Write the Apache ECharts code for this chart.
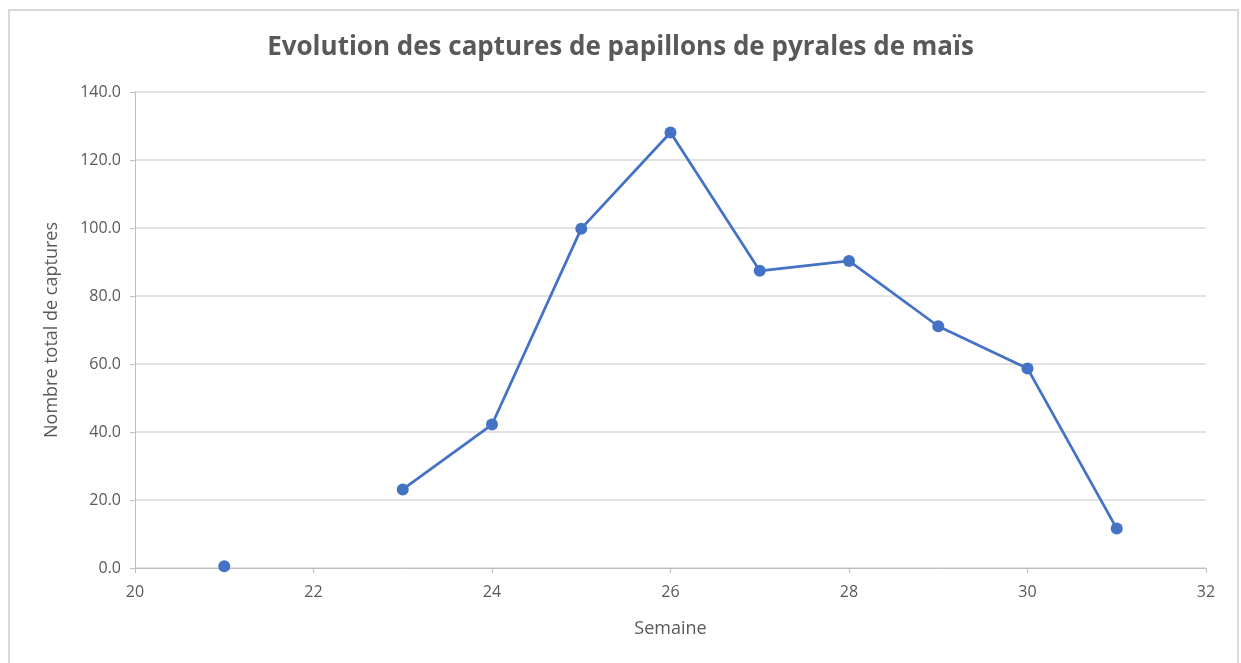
<!DOCTYPE html>
<html>
<head>
<meta charset="utf-8">
<script src="https://cdn.jsdelivr.net/npm/echarts@6/dist/echarts.min.js"></script>
<style>
html,body{margin:0;padding:0;background:#fff;}
#chart{width:1241px;height:663px;}
</style>
</head>
<body>
<div id="chart"></div>
<script>
const weeks = [21, 22, 23, 24, 25, 26, 27, 28, 29, 30, 31];
const captures = [0.5, null, 23.1, 42.2, 99.8, 128.1, 87.4, 90.3, 71.1, 58.7, 11.6];
const titleText = 'Evolution des captures de papillons de pyrales de maïs';
const xName = 'Semaine';
const yName = 'Nombre total de captures';

const seriesData = weeks.map((w, i) => [w, captures[i] === null ? '-' : captures[i]]);

const chart = echarts.init(document.getElementById('chart'));
const txt = '#595959';
const font = '"Open Sans", "Liberation Sans", sans-serif';
chart.setOption({
  animation: false,
  backgroundColor: '#fff',
  graphic: [{
    type: 'rect',
    shape: {x: 9, y: 10, width: 1229, height: 670},
    style: {fill: 'none', stroke: '#d9d9d9', lineWidth: 2},
    silent: true
  }],
  title: {
    text: titleText,
    left: 'center',
    top: 30,
    textStyle: {color: txt, fontSize: 26, fontWeight: 'bold', fontFamily: font}
  },
  grid: {left: 135, right: 35, top: 92, bottom: 95, containLabel: false},
  xAxis: {
    type: 'value',
    min: 20, max: 32, interval: 2,
    name: xName,
    nameLocation: 'middle',
    nameGap: 52,
    nameTextStyle: {color: txt, fontSize: 18, fontFamily: font},
    axisLine: {show: true, lineStyle: {color: '#bfbfbf', width: 1}},
    axisTick: {show: true, length: 5, lineStyle: {color: '#bfbfbf'}},
    axisLabel: {color: txt, fontSize: 16, margin: 16, fontFamily: font},
    splitLine: {show: false}
  },
  yAxis: {
    type: 'value',
    min: 0, max: 140, interval: 20,
    name: yName,
    nameLocation: 'middle',
    nameGap: 74,
    nameRotate: 90,
    nameTextStyle: {color: txt, fontSize: 18, fontFamily: font},
    axisLine: {show: true, lineStyle: {color: '#bfbfbf', width: 1}},
    axisTick: {show: true, length: 5, lineStyle: {color: '#bfbfbf'}},
    axisLabel: {color: txt, fontSize: 16, margin: 14, fontFamily: font,
      formatter: v => v.toFixed(1)},
    splitLine: {show: true, lineStyle: {color: '#d9d9d9', width: 1.5}}
  },
  series: [{
    type: 'line',
    data: seriesData,
    connectNulls: false,
    symbol: 'circle',
    symbolSize: 12,
    lineStyle: {color: '#4472c4', width: 2.75},
    itemStyle: {color: '#4472c4'}
  }]
});
</script>
</body>
</html>
